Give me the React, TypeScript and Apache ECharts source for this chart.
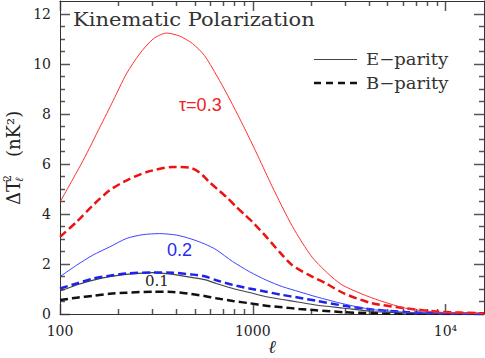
import React, { useEffect, useRef } from 'react';
import * as echarts from 'echarts';

// multipole l values and Delta T^2 (nK^2)
const lRedE = [100, 132, 161, 189, 221, 259, 304, 357, 417, 487, 562, 673, 785, 924, 1067, 1260, 1606, 2033, 2578, 2975, 4166, 6220, 9250, 15849];
const yRedE = [4.47, 6.14, 7.46, 8.53, 9.59, 10.39, 10.98, 11.22, 11.1, 10.8, 10.32, 9.32, 8.37, 7.29, 6.29, 5.1, 3.5, 2.27, 1.47, 1.12, 0.64, 0.23, 0.07, 0.02];

const lRedB = [100, 122, 148, 181, 222, 282, 384, 470, 530, 590, 657, 729, 811, 904, 996, 1177, 1376, 1603, 1964, 2401, 2977, 4164, 6220, 9250, 15849];
const yRedB = [3.08, 3.68, 4.34, 4.94, 5.34, 5.67, 5.87, 5.85, 5.65, 5.3, 4.98, 4.68, 4.32, 3.98, 3.68, 3.08, 2.48, 1.95, 1.55, 1.22, 0.82, 0.43, 0.23, 0.09, 0.03];

const lBlueE = [100, 122, 148, 181, 222, 270, 329, 403, 478, 562, 646, 785, 962, 1177, 1429, 1742, 2128, 2977, 4164, 6220, 9250, 15849];
const yBlueE = [1.49, 1.95, 2.35, 2.68, 3.02, 3.17, 3.21, 3.15, 3.0, 2.8, 2.57, 2.1, 1.69, 1.35, 1.09, 0.89, 0.69, 0.4, 0.18, 0.07, 0.025, 0.005];

const lBlueB = [100, 122, 149, 181, 221, 304, 385, 480, 562, 646, 789, 962, 1172, 1429, 1742, 2128, 2978, 4180, 6220, 9250, 15849];
const yBlueB = [1.02, 1.22, 1.42, 1.53, 1.62, 1.66, 1.65, 1.58, 1.51, 1.35, 1.16, 1.02, 0.89, 0.76, 0.65, 0.53, 0.33, 0.18, 0.08, 0.03, 0.01];

const lBlackE = [100, 122, 149, 181, 221, 304, 385, 480, 562, 646, 789, 962, 1172, 1429, 1742, 2128, 2978, 4180, 6220, 9250, 15849];
const yBlackE = [0.92, 1.16, 1.35, 1.49, 1.58, 1.65, 1.58, 1.46, 1.37, 1.22, 1.02, 0.86, 0.69, 0.58, 0.47, 0.36, 0.23, 0.1, 0.04, 0.01, 0.005];

const lBlackB = [100, 122, 149, 181, 221, 304, 385, 480, 562, 646, 789, 962, 1172, 1429, 1742, 2128, 2978, 4180, 6220, 9250, 15849];
const yBlackB = [0.56, 0.65, 0.73, 0.81, 0.85, 0.89, 0.88, 0.8, 0.72, 0.63, 0.52, 0.43, 0.33, 0.27, 0.2, 0.15, 0.07, 0.03, 0.01, 0.005, 0.002];

// axis ticks
const xMajorTicks = [100, 1000, 10000];
const xMajorLabels = ['100', '1000', '10⁴'];
const xMinorTicks = [200, 300, 400, 500, 600, 700, 800, 900, 2000, 3000, 4000, 5000, 6000, 7000, 8000, 9000];
const yMajorTicks = [0, 2, 4, 6, 8, 10, 12];
const yMajorLabels = ['0', '2', '4', '6', '8', '10', '12'];
const yMinorTicks = [0.5, 1, 1.5, 2.5, 3, 3.5, 4.5, 5, 5.5, 6.5, 7, 7.5, 8.5, 9, 9.5, 10.5, 11, 11.5];

const xMinL = 100;
const xMaxL = 15849;
const yMax = 12.5;

export default function App() {
  const ref = useRef<HTMLDivElement>(null);
  useEffect(() => {
    if (!ref.current) return;
    const chart = echarts.init(ref.current, null, { renderer: 'svg' });
    const lg = (v: number) => Math.log10(v);
    const pts = (ls: number[], ys: number[]) => ls.map((l, i) => [lg(l), ys[i]]);
    const axisColor = '#333';
    const tickColor = '#555';
    const serif = 'DejaVu Serif';
    const xMin = lg(xMinL);
    const xMax = lg(xMaxL);
    const majorLog = xMajorTicks.map(lg);

    const xAxisBase = (pos: string, showLabel: boolean) => ({
      type: 'value',
      position: pos,
      min: xMin,
      max: xMax,
      interval: 1,
      splitLine: { show: false },
      axisLine: { show: true, onZero: false, lineStyle: { color: axisColor, width: 1 } },
      axisTick: { show: false },
      axisLabel: {
        show: showLabel,
        showMinLabel: true,
        showMaxLabel: false,
        margin: 10,
        fontFamily: serif,
        fontSize: 14,
        color: '#222',
        formatter: (v: number) => {
          const i = majorLog.findIndex((m) => Math.abs(m - v) < 1e-6);
          return i >= 0 ? xMajorLabels[i] : '';
        },
      },
    });

    const yAxisBase = (pos: string, showLabel: boolean) => ({
      type: 'value',
      position: pos,
      min: 0,
      max: yMax,
      interval: 2,
      splitLine: { show: false },
      axisLine: { show: true, onZero: false, lineStyle: { color: axisColor, width: 1 } },
      axisTick: { show: false },
      axisLabel: {
        show: showLabel,
        showMaxLabel: false,
        margin: 9,
        fontFamily: serif,
        fontSize: 14,
        color: '#222',
        formatter: (v: number) => {
          const i = yMajorTicks.findIndex((m) => Math.abs(m - v) < 1e-6);
          return i >= 0 ? yMajorLabels[i] : '';
        },
      },
    });

    const line = (ls: number[], ys: number[], color: string, width: number, dashed: boolean, z: number) => ({
      type: 'line',
      data: pts(ls, ys),
      xAxisIndex: 0,
      yAxisIndex: 0,
      showSymbol: false,
      symbol: 'none',
      smooth: 0.25,
      clip: true,
      z,
      lineStyle: { color, width, type: dashed ? [8, 4] : 'solid' },
    });

    const staticGraphics: any[] = [
      {
        type: 'text', x: 73, y: 20, scaleX: 1.17,
        style: { text: 'Kinematic Polarization', font: `18px "${serif}"`, fill: '#333', verticalAlign: 'middle', align: 'left' },
      },
      { type: 'line', shape: { x1: 314, y1: 59.5, x2: 357, y2: 59.5 }, style: { stroke: '#444', lineWidth: 1 } },
      { type: 'line', shape: { x1: 314, y1: 83, x2: 357, y2: 83 }, style: { stroke: '#111', lineWidth: 2.5, lineDash: [7, 5] } },
      {
        type: 'text', x: 366, y: 59, scaleX: 1.06,
        style: { text: 'E−parity', font: `17px "${serif}"`, fill: '#333', verticalAlign: 'middle', align: 'left' },
      },
      {
        type: 'text', x: 366, y: 83, scaleX: 1.06,
        style: { text: 'B−parity', font: `17px "${serif}"`, fill: '#333', verticalAlign: 'middle', align: 'left' },
      },
      {
        type: 'text', x: 179, y: 105,
        style: { text: 'τ=0.3', font: '18px "Liberation Sans"', fill: '#ee2222', verticalAlign: 'middle', align: 'left' },
      },
      {
        type: 'text', x: 167, y: 250,
        style: { text: '0.2', font: '18px "Liberation Sans"', fill: '#2a2aee', verticalAlign: 'middle', align: 'left' },
      },
      {
        type: 'text', x: 145, y: 281,
        style: { text: '0.1', font: `15px "${serif}"`, fill: '#222', verticalAlign: 'middle', align: 'left' },
      },
      {
        type: 'text', x: 272, y: 346,
        style: { text: 'ℓ', font: `italic 18px "${serif}"`, fill: '#222', verticalAlign: 'middle', align: 'center' },
      },
      {
        type: 'group', x: 13, y: 205, rotation: Math.PI / 2,
        children: [
          { type: 'text', x: 0, y: 0, style: { text: 'ΔT', font: `18px "${serif}"`, fill: '#222', verticalAlign: 'middle', align: 'left' } },
          { type: 'text', x: 23, y: -6, style: { text: '2', font: `11px "${serif}"`, fill: '#222', verticalAlign: 'middle', align: 'left' } },
          { type: 'text', x: 23, y: 6, style: { text: 'ℓ', font: `italic 11px "${serif}"`, fill: '#222', verticalAlign: 'middle', align: 'left' } },
          { type: 'text', x: 48, y: 0, style: { text: '(nK²)', font: `18px "${serif}"`, fill: '#222', verticalAlign: 'middle', align: 'left' } },
        ],
      },
    ];

    // first pass: axes and curves only
    chart.setOption({
      animation: false,
      backgroundColor: '#fff',
      grid: { left: 60, right: 1, top: 1, bottom: 44 },
      xAxis: [xAxisBase('bottom', true), xAxisBase('top', false)],
      yAxis: [yAxisBase('left', true), yAxisBase('right', false)],
      series: [
        line(lBlackB, yBlackB, '#111', 2.5, true, 2),
        line(lBlackE, yBlackE, '#444', 1.2, false, 3),
        line(lBlueB, yBlueB, '#1a22ee', 2.5, true, 4),
        line(lBlueE, yBlueE, '#3a44ff', 1, false, 5),
        line(lRedB, yRedB, '#ee1111', 2.5, true, 6),
        line(lRedE, yRedE, '#ff3030', 1, false, 7),
      ],
    });

    // second pass: tick marks placed through the chart's own axis scales, plus annotations
    const ticks: any[] = [];
    const toPx = (x: number, y: number) => {
      try {
        return chart.convertToPixel({ gridIndex: 0 }, [x, y]) as number[];
      } catch (e) {
        return null;
      }
    };
    const crisp = (v: number) => Math.round(v) + 0.5;
    const tickLine = (x1: number, y1: number, x2: number, y2: number) => ({
      type: 'line',
      shape: { x1, y1, x2, y2 },
      style: { stroke: tickColor, lineWidth: 1.5 },
    });
    xMajorTicks.concat(xMinorTicks).forEach((v, i) => {
      const len = i < xMajorTicks.length ? 10 : 5;
      const b = toPx(lg(v), 0);
      const t = toPx(lg(v), yMax);
      if (!b || !t) return;
      const x = crisp(b[0]);
      ticks.push(tickLine(x, b[1], x, b[1] - len));
      ticks.push(tickLine(x, t[1], x, t[1] + len));
    });
    yMajorTicks.concat(yMinorTicks).forEach((v, i) => {
      const len = i < yMajorTicks.length ? 10 : 5;
      const l = toPx(xMin, v);
      const r = toPx(xMax, v);
      if (!l || !r) return;
      const y = crisp(l[1]);
      ticks.push(tickLine(l[0], y, l[0] + len, y));
      ticks.push(tickLine(r[0], y, r[0] - len, y));
    });
    chart.setOption({ graphic: [...ticks, ...staticGraphics] });

    return () => chart.dispose();
  }, []);
  return <div ref={ref} style={{ position: 'fixed', left: 0, top: 0, width: 485, height: 358 }} />;
}
